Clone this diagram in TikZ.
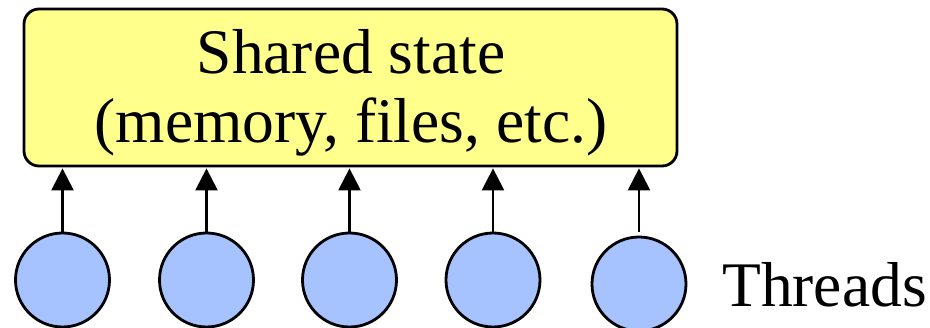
\documentclass[tikz,border=0pt]{standalone}
\usepackage{fontspec}
\setmainfont{Liberation Serif}
\usetikzlibrary{arrows.meta}
\definecolor{stateyellow}{HTML}{FFFF8C}
\definecolor{threadblue}{HTML}{A6C2FF}
\begin{document}
\begin{tikzpicture}[x=1pt,y=-1pt,
  statebox/.style={draw=black,line width=2.8pt,fill=stateyellow,rounded corners=15pt,
    minimum width=653pt,minimum height=157pt,inner sep=0pt},
  thread/.style={circle,draw=black,line width=2.8pt,fill=threadblue,minimum size=94pt,inner sep=0pt},
  bigtext/.style={font=\fontsize{63.5}{70}\selectfont,inner sep=0pt},
  arr/.style={line width=2.4pt,-{Triangle[width=22pt,length=22pt]},shorten >=1pt}]
\useasboundingbox (0,0) rectangle (930,328);
\node[statebox] (state) at (350.5,87.5) {};
\node[bigtext,anchor=base] (l1) at (351,74) {Shared state};
\node[bigtext,anchor=base] (l2) at (351,143) {(memory, files, etc.)};
\node[thread] (t1) at (62.5,280) {};
\node[thread] (t2) at (206.5,280) {};
\node[thread] (t3) at (349.5,280) {};
\node[thread] (t4) at (493,280) {};
\node[thread] (t5) at (639,284) {};
\node[bigtext,anchor=base west] (lbl) at (722,307) {Threads};
\foreach \i in {1,...,4}{
  \draw[arr] (t\i.north) -- (t\i |- state.south);
}
\draw[arr] ([yshift=4pt]t5.north) -- (t5 |- state.south);
\end{tikzpicture}
\end{document}
